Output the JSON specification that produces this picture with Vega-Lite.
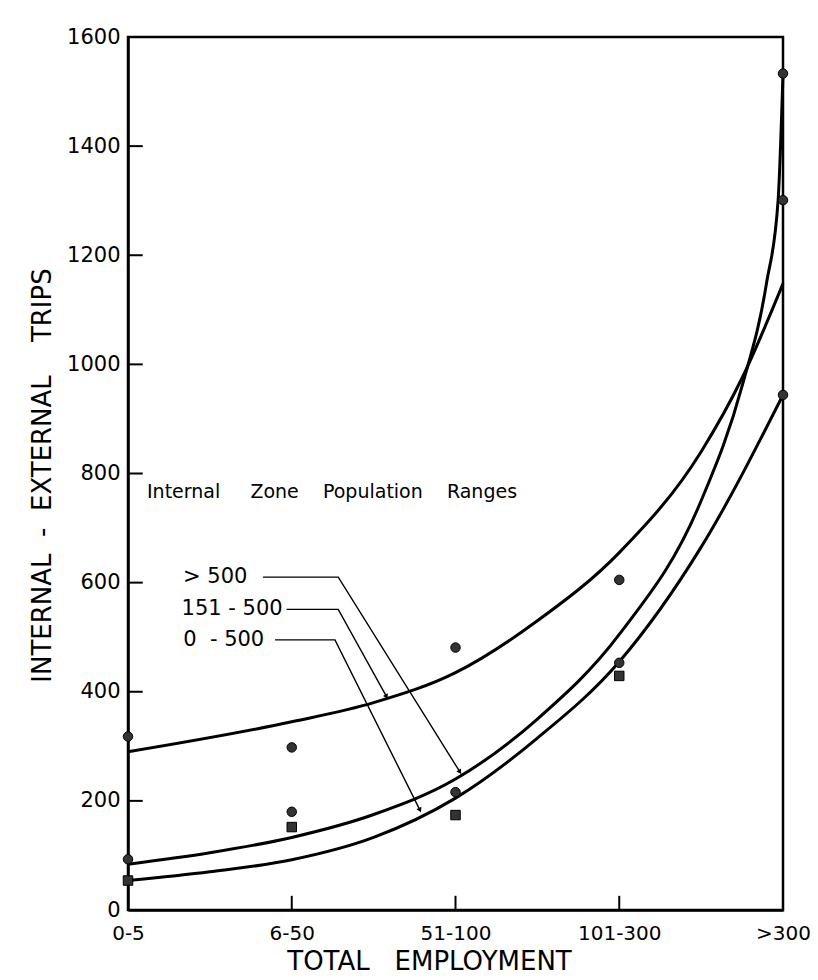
{
  "$schema": "https://vega.github.io/schema/vega-lite/v6.json",
  "width": 655,
  "height": 873,
  "autosize": {"type": "none"},
  "padding": {"left": 128, "top": 37, "right": 35, "bottom": 70},
  "background": "white",
  "config": {
    "view": {"stroke": "black", "strokeWidth": 2.5},
    "font": "DejaVu Sans"
  },
  "datasets": {
    "curves": [
      {"series": "A", "x": 0, "y": 290}, {"series": "A", "x": 1, "y": 345}, {"series": "A", "x": 1.5, "y": 380},
      {"series": "A", "x": 2, "y": 435}, {"series": "A", "x": 2.5, "y": 530}, {"series": "A", "x": 3, "y": 655},
      {"series": "A", "x": 3.5, "y": 840}, {"series": "A", "x": 3.75, "y": 975}, {"series": "A", "x": 4, "y": 1148},
      {"series": "B", "x": 0, "y": 84}, {"series": "B", "x": 0.5, "y": 105}, {"series": "B", "x": 1, "y": 133},
      {"series": "B", "x": 1.5, "y": 175}, {"series": "B", "x": 2, "y": 240}, {"series": "B", "x": 2.5, "y": 350},
      {"series": "B", "x": 3, "y": 505}, {"series": "B", "x": 3.5, "y": 750}, {"series": "B", "x": 3.75, "y": 960},
      {"series": "B", "x": 3.9, "y": 1150}, {"series": "B", "x": 3.97, "y": 1300}, {"series": "B", "x": 4, "y": 1533},
      {"series": "C", "x": 0, "y": 54}, {"series": "C", "x": 0.5, "y": 70}, {"series": "C", "x": 1, "y": 92},
      {"series": "C", "x": 1.5, "y": 133}, {"series": "C", "x": 2, "y": 205}, {"series": "C", "x": 2.5, "y": 315},
      {"series": "C", "x": 3, "y": 455}, {"series": "C", "x": 3.5, "y": 665}, {"series": "C", "x": 4, "y": 944}
    ],
    "points": [
      {"x": 0, "y": 318, "shape": "circle"}, {"x": 0, "y": 93, "shape": "circle"}, {"x": 0, "y": 54, "shape": "square"},
      {"x": 1, "y": 298, "shape": "circle"}, {"x": 1, "y": 180, "shape": "circle"}, {"x": 1, "y": 152, "shape": "square"},
      {"x": 2, "y": 481, "shape": "circle"}, {"x": 2, "y": 216, "shape": "circle"}, {"x": 2, "y": 174, "shape": "square"},
      {"x": 3, "y": 605, "shape": "circle"}, {"x": 3, "y": 453, "shape": "circle"}, {"x": 3, "y": 429, "shape": "square"},
      {"x": 4, "y": 1533, "shape": "circle"}, {"x": 4, "y": 1301, "shape": "circle"}, {"x": 4, "y": 944, "shape": "circle"}
    ],
    "leaders": [
      {"label": "> 500", "order": 1, "x": 0.824, "y": 610}, {"label": "> 500", "order": 2, "x": 1.284, "y": 610}, {"label": "> 500", "order": 3, "x": 2.027, "y": 253},
      {"label": "151 - 500", "order": 1, "x": 0.968, "y": 551}, {"label": "151 - 500", "order": 2, "x": 1.284, "y": 551}, {"label": "151 - 500", "order": 3, "x": 1.579, "y": 391},
      {"label": "0 - 500", "order": 1, "x": 0.898, "y": 495}, {"label": "0 - 500", "order": 2, "x": 1.264, "y": 495}, {"label": "0 - 500", "order": 3, "x": 1.783, "y": 183}
    ],
    "arrows": [
      {"x": 2.027, "y": 253, "angle": -32},
      {"x": 1.579, "y": 391, "angle": -29},
      {"x": 1.783, "y": 183, "angle": -26}
    ],
    "labels": [
      {"text": ">\u00a0500", "x": 0.336, "y": 610},
      {"text": "151\u00a0-\u00a0500", "x": 0.327, "y": 551},
      {"text": "0\u00a0\u00a0-\u00a0500", "x": 0.337, "y": 495}
    ],
    "heading": [
      {"text": "Internal\u00a0\u00a0\u00a0\u00a0\u00a0Zone\u00a0\u00a0\u00a0\u00a0Population\u00a0\u00a0\u00a0\u00a0Ranges", "x": 0.116, "y": 766}
    ],
    "xticks": [
      {"x": 1, "y": 0, "y2": 26}, {"x": 2, "y": 0, "y2": 26}, {"x": 3, "y": 0, "y2": 26}
    ],
    "yticks": [
      {"y": 200, "x": 0, "x2": 0.09}, {"y": 400, "x": 0, "x2": 0.09}, {"y": 600, "x": 0, "x2": 0.09},
      {"y": 800, "x": 0, "x2": 0.09}, {"y": 1000, "x": 0, "x2": 0.09}, {"y": 1200, "x": 0, "x2": 0.09},
      {"y": 1400, "x": 0, "x2": 0.09}
    ]
  },
  "layer": [
    {
      "data": {"name": "curves"},
      "mark": {"type": "line", "color": "black", "strokeWidth": 3, "interpolate": "monotone"},
      "encoding": {
        "x": {
          "field": "x", "type": "quantitative",
          "scale": {"domain": [0, 4], "nice": false, "zero": false},
          "axis": {
            "values": [0, 1, 2, 3, 4],
            "labelExpr": "['0-5','6-50','51-100','101-300','>300'][datum.value]",
            "grid": false, "ticks": false,
            "labelFlush": false, "labelBound": false, "labelOverlap": false,
            "domainColor": "black", "domainWidth": 2.5,
            "labelFontSize": 20, "labelColor": "black", "labelPadding": 13,
            "labelFont": "DejaVu Sans",
            "title": "TOTAL\u00a0\u00a0\u00a0EMPLOYMENT",
            "titleFontSize": 26, "titleFontWeight": "normal", "titleColor": "black",
            "titleFont": "DejaVu Sans",
            "titleX": 301, "titleY": 51, "titleBaseline": "middle"
          }
        },
        "y": {
          "field": "y", "type": "quantitative",
          "scale": {"domain": [0, 1600], "nice": false},
          "axis": {
            "values": [0, 200, 400, 600, 800, 1000, 1200, 1400, 1600],
            "format": "d",
            "grid": false, "ticks": false,
            "domainColor": "black", "domainWidth": 2.5,
            "labelFontSize": 21, "labelColor": "black", "labelPadding": 8,
            "labelFont": "DejaVu Sans",
            "title": "INTERNAL\u00a0\u00a0-\u00a0\u00a0EXTERNAL\u00a0\u00a0\u00a0\u00a0TRIPS",
            "titleFontSize": 26, "titleFontWeight": "normal", "titleColor": "black",
            "titleFont": "DejaVu Sans",
            "titleX": -86, "titleY": 438, "titleBaseline": "middle"
          }
        },
        "detail": {"field": "series"}
      }
    },
    {
      "data": {"name": "xticks"},
      "mark": {"type": "rule", "color": "black", "strokeWidth": 2},
      "encoding": {
        "x": {"field": "x", "type": "quantitative"},
        "y": {"field": "y", "type": "quantitative"},
        "y2": {"field": "y2"}
      }
    },
    {
      "data": {"name": "yticks"},
      "mark": {"type": "rule", "color": "black", "strokeWidth": 2},
      "encoding": {
        "x": {"field": "x", "type": "quantitative"},
        "x2": {"field": "x2"},
        "y": {"field": "y", "type": "quantitative"}
      }
    },
    {
      "data": {"name": "leaders"},
      "mark": {"type": "line", "color": "black", "strokeWidth": 1.4},
      "encoding": {
        "x": {"field": "x", "type": "quantitative"},
        "y": {"field": "y", "type": "quantitative"},
        "detail": {"field": "label"},
        "order": {"field": "order"}
      }
    },
    {
      "data": {"name": "arrows"},
      "mark": {"type": "point", "shape": "triangle-down", "filled": true, "color": "black", "size": 30, "opacity": 1},
      "encoding": {
        "x": {"field": "x", "type": "quantitative"},
        "y": {"field": "y", "type": "quantitative"},
        "angle": {"field": "angle", "type": "quantitative", "scale": null}
      }
    },
    {
      "data": {"name": "points"},
      "mark": {"type": "point", "filled": true, "color": "#333333", "size": 90, "opacity": 1, "stroke": "black", "strokeWidth": 1},
      "encoding": {
        "x": {"field": "x", "type": "quantitative"},
        "y": {"field": "y", "type": "quantitative"},
        "shape": {"field": "shape", "type": "nominal", "scale": {"domain": ["circle", "square"], "range": ["circle", "square"]}, "legend": null}
      }
    },
    {
      "data": {"name": "labels"},
      "mark": {"type": "text", "align": "left", "baseline": "middle", "fontSize": 21, "color": "black", "font": "DejaVu Sans"},
      "encoding": {
        "x": {"field": "x", "type": "quantitative"},
        "y": {"field": "y", "type": "quantitative"},
        "text": {"field": "text"}
      }
    },
    {
      "data": {"name": "heading"},
      "mark": {"type": "text", "align": "left", "baseline": "middle", "fontSize": 19, "color": "black", "font": "DejaVu Sans"},
      "encoding": {
        "x": {"field": "x", "type": "quantitative"},
        "y": {"field": "y", "type": "quantitative"},
        "text": {"field": "text"}
      }
    }
  ]
}
